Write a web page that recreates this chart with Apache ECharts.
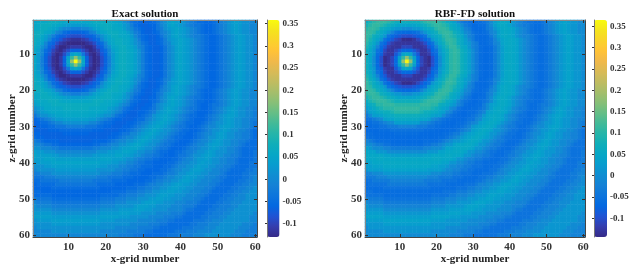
<!DOCTYPE html>
<html><head><meta charset="utf-8">
<style>html,body{margin:0;padding:0;background:#fff}#c{width:639px;height:267px;filter:blur(0.45px)}</style>
<script src="https://cdn.jsdelivr.net/npm/echarts@6/dist/echarts.min.js"></script>
</head><body><div id="c"></div>
<script>
// Each letter is one grid cell; levelValues gives the colour-bar value of each letter.
const levelValues = {'@':-0.14,a:-0.13,b:-0.12,c:-0.11,d:-0.10,e:-0.09,f:-0.08,g:-0.07,h:-0.065,i:-0.065,j:-0.06,k:-0.05,l:-0.035,m:-0.02,n:-0.005,o:0.015,p:0.03,q:0.04,r:0.05,s:0.055,t:0.06,u:0.07,v:0.085,w:0.10,x:0.11,B:0.11,H:0.18,X:0.36};
const gridLabels = Array.from({length: 60}, (_, i) => String(i + 1));
const exactRows = [
'rsttuuutss ssssstuuut tsrqonlkji ijklnoqrqp onmlkkjjkl mnopqpoonn',
'stuuutsrqp ppppqrstuu utsrpomkji ijjlnoqrqp onmllkjjkl mnopqpoonn',
'ttuutrqonn mmmnnoqrtu uttsqonlkj iijlmopqrq ponmlkjjkl mnopqpoonn',
'uuusrpnmkj iiijkmnprs uuutsqomlj iijkmnoqrq ponmlkjjkl mnopqpoonn',
'uusqomkigf eeefgikmoq suutsrpnlk jiijlnoqrq ponmmlkjjk lmnopqpoon',
'utrpnkhfdc bbbcdfhknp rtuutsqomk jiijkmopqr qponmlkjjk lmnopqpoon',
'usqnkhecba aaaabcehkn qsuutsqonl kiijkmnpqr qponmlkjjk lmnopqpoon',
'tromifcaab cccbaacfim ortuusrpnm kjiijlnoqr qponmlkjjk lmnopqpoon',
'sqnkgdbace hihecabdgk nqsuutsqom kjiijlnoqr qponmlkjjk lmnopqpoon',
'spnjfcabel qtqlebacfj npsuutsqom kjiijlnoqr qponmlkjjk lmnopqpoon',
'spmiebachq BHBqhcabei mpsuutsqom kjiijlnoqr qponmlkjjk lmnopqpoon',
'spmiebacit HXHticabei mpsuutsqom kjiijlnoqr qponmlkjjk lmnopqpoon',
'spmiebachq BHBqhcabei mpsuutsqom kjiijlnoqr qponmlkjjk lmnopqpoon',
'spnjfcabel qtqlebacfj npsuutsqom kjiijlnoqr qponmlkjjk lmnopqpoon',
'sqnkgdbace hihecabdgk nqsuutsqom kjiijlnoqr qponmlkjjk lmnopqpoon',
'tromifcaab cccbaacfim ortuusrpnm kjiijlnoqr qponmlkjjk lmnopqpoon',
'usqnkhecba aaaabcehkn qsuutsqonl kiijkmnpqr qponmlkjjk lmnopqpoon',
'utrpnkhfdc bbbcdfhknp rtuutsqomk jiijkmopqr qponmlkjjk lmnopqpoon',
'uusqomkigf eeefgikmoq suutsrpnlk jiijlnoqrq ponmmlkjjk lmnopqpoon',
'uuusrpnmkj iiijkmnprs uuutsqomlj iijkmnoqrq ponmlkjjkl mnopqpoonn',
'ttuutrqonn mmmnnoqrtu uttsqonlkj iijlmopqrq ponmlkjjkl mnopqpoonn',
'stuuutsrqp ppppqrstuu utsrpomkji ijjlnoqrqp onmllkjjkl mnopqpoonn',
'rsttuuutss ssssstuuut tsrqonlkji ijklnoqrqp onmlkkjjkl mnopqpoonn',
'qrsttuuuuu uuuuuuuutt srqonmkjii jjlnopqrqp onmlkjjkll mnopqpoonn',
'opqsstttuu uuuuutttss qponlkjiij jklnoqrqpo nmllkjjklm nopqpoonnm',
'nopqrssstt tttttsssrq ponmkjiijj klmopqrqpo nmlkjjjklm nopqpoonnm',
'lnoopqrrss sssssrrqpo onlkjiiijk lmopqrqpon mlkkjjklmn opqqpoonnm',
'jklmnoppqq qqqqqpponm lkjjiiijkk mnopqrqpon mlkjjjklmn opqpoonnmm',
'ijkklmnnoo ooooonnmlk kjiiijjklm nopqrqponm lkkjjklmno opqpoonnml',
'iijjkklllm mmmmlllkkj jiiijjklmn opqrqponml lkjjklmnno pqqpoonnml',
'iiiijjjkkk kkkkkkjjji iiijjklmno pqrqpoonml kkjjklmnoo pqpoonnmlk',
'jjiiiiiijj jjjjjiiiii ijjkllnnop qrqpoonmlk kjjklmnnop qpoonnmmlk',
'kjjiiiiiii iiiiiiiiii jjklmnnopq rqpoonmlkk jjjklmnoop qpoonnmmlk',
'mlkjjjjiii iiiiiijjjj klmnnoopqr qpoonmllkj jjklmnnopq poonnmmlkk',
'nnmllkkjjj jjjjjjkkll mnnoopqrrq poonmllkjj jklmnnopqq poonnmlkkk',
'oonnnmmlll llllllmmnn noopqqrrqp oonmllkjjj klmmnoopqp oonnmlkkkk',
'qppooonnnn nnnnnnnooo ppqqrrqpoo nnmlkkjjkk lmmnoopqpo oonnmlkkkl',
'rqqqqppooo ooooooppqq qqrrqqpoon mmllkjjjkl lmnoopqqpo onnmmlkkkl',
'qqqrrrqqqq qqqqqqqqrr rqqqpoonmm llkkjjjkkl mnnoppqpoo nnmmlkkkkl',
'ppqqqrrrrr rrrrrrrrqq qppoonnmll kkjjjjkklm nnoopqppoo nnmmlkkkll',
'oooppqqqqq qqqqqqqqpp ooonnmmllk kkjjjkklmn noopqppoon nmmlkkkkll',
'nooooopppp pppppppooo oonnmmllkk jjjjkklmnn oopqqpoonn mmlkkkkllm',
'mmnnnooooo oooooooonn nmmmllkkkj jjkkklmmno opqppoonnn mlkkkkllmm',
'lllmmmnnnn nnnnnnnmmm llllkkkjjj jkkllmnnoo pqppoonnnm llkkkkllmn',
'kklllllmmm mmmmmmllll lkkkkjjjjj kklmmnnoop qqpoonnnmm lkkkkllmmn',
'jkkkkkllll lllllllkkk kkjjjjjkkk lmmnnoopqq ppoonnnmml kkkkllmmnn',
'jjjjjkkkkk kkkkkkkkjj jjjjjkkkll mmnnoopqqp poonnnmmlk kkkllmmnno',
'kkjjjjjjjj jjjjjjjjjj jkkkklllmm nnooppqqpp oonnnmmlkk kkllmmnnoo',
'kkkkkjjjjj jjjjjjjjkk kkkllmmmnn ooopqqppoo onnnmmlkkk kllmmnnooo',
'mllllkkkkk kkkkkkkkll llmmmnnnoo oppqqppooo nnnmmlkkkk llmmnnnooo',
'nmmmmlllll llllllllmm mmnnnoooop qqqppooonn nmmmlkkkkl lmmnnnoooo',
'onnnnmmmmm mmmmmmmmnn nnooooopqq qppoooonnn mmmlkkkkll mmmnnooooo',
'ooooonnnnn nnnnnnnnoo oooppppqqq ppoooonnnn mllkkkkllm mmnnoooooo',
'pppppooooo oooooooopp pppqqqpppo ooonnnnmmm lkkkkkllmm mnnoooooon',
'qqqqqppppp ppppppppqq qqqpppoooo onnnnmmmll kkkkkllmmm nnoooooonn',
'oppppqqqqq qqqqqqqqpp ppoooooonn nnnmmmllkk kkklllmmnn nooooooonn',
'oooooppppp ppppppppoo oooooonnnn nmmmllkkkk kkllmmmnnn oooooonnnm',
'nooooooooo oooooooooo oonnnnnnmm mmllkkkkkk lllmmmnnno ooooonnnmm',
'nnnnnooooo oooooooonn nnnnnmmmmm llkkkkkkll lmmmnnnnoo oooonnnmmm',
'nnnnnnnnnn nnnnnnnnnn nnnmmmmlll kkkkkklllm mmmnnnoooo ooonnnmmmm'
];
const rbfRows = [
'tvwxxxwvuu uuuuuvwxxx wvtrpnlkji ijklnprsrq onmlkkjjkl mnopqpoonn',
'vwxxwvutrq qqqqrtuvwx xwvtrpnlki ijjlnprsrq onmllkjjkl mnopqpoonn',
'wxxwutrpoo nnnooprtuw xxwusqomlj iijlmoqrsr qonmlkjjkl mnopqpoonn',
'xxwusqomkj iiijkmoqsu wxxwuspnmk jijkmnprsr qonmlkjjkl mnopqpoonn',
'xwusqokhfe dddefhkoqs uwxwvtroml jiijlnprsr qonmmlkjjk lmnopqpoon',
'xvtqokgecb @@@acegkoq tvxxwuspnl jiijkmoqrs rqonmlkjjk lmnopqpoon',
'wurokgdbaa aaaaabdgko ruwxwuspom liijkmnqrs rqonmlkjjk lmnopqpoon',
'vtpmiebaaa cccaaabeim ptvxxvtrom ljiijlnprs rqonmlkjjk lmnopqpoon',
'urokgcaace hihecaacgk oruwxwuspn ljiijlnprs rqonmlkjjk lmnopqpoon',
'uqojfbaael qsqleaabfj oquwxwuspn ljiijlnprs rqonmlkjjk lmnopqpoon',
'uqnid@achp BHBphca@di nquwxwuspn ljiijlnprs rqonmlkjjk lmnopqpoon',
'uqnid@acis HXHsica@di nquwxwuspn ljiijlnprs rqonmlkjjk lmnopqpoon',
'uqnid@achp BHBphca@di nquwxwuspn ljiijlnprs rqonmlkjjk lmnopqpoon',
'uqojfbaael qsqleaabfj oquwxwuspn ljiijlnprs rqonmlkjjk lmnopqpoon',
'urokgcaace hihecaacgk oruwxwuspn ljiijlnprs rqonmlkjjk lmnopqpoon',
'vtpmiebaaa cccaaabeim ptvxxvtrom ljiijlnprs rqonmlkjjk lmnopqpoon',
'wurokgdbaa aaaaabdgko ruwxwuspom liijkmnqrs rqonmlkjjk lmnopqpoon',
'xvtqokgecb @@@acegkoq tvxxwuspnl jiijkmoqrs rqonmlkjjk lmnopqpoon',
'xwusqokhfe dddefhkoqs uwxwvtroml jiijlnprsr qonmmlkjjk lmnopqpoon',
'xxwusqomkj iiijkmoqsu wxxwuspnmk jijkmnprsr qonmlkjjkl mnopqpoonn',
'wxxwutrpoo nnnooprtuw xxwusqomlj iijlmoqrsr qonmlkjjkl mnopqpoonn',
'vwxxwvutrq qqqqrtuvwx xwvtrpnlki ijjlnprsrq onmllkjjkl mnopqpoonn',
'tvwxxxwvuu uuuuuvwxxx wvtrpnlkji ijklnprsrq onmlkkjjkl mnopqpoonn',
'rtuwwxxxww wwwwwxxxww utrpomljii jjlnpqrsrq onmlkjjkll mnopqpoonn',
'pqsuvwwwxx xxxxxwwwvu sqpnmkjiij jklnprsrqp nmllkjjklm nopqpoonnm',
'npqstuuvww wwwwwvuuts qpnmkjiijj klmpqrsrqo nmlkjjjklm nopqpoonnm',
'lnppqsttuu uuuuuttsqp pnlkjiiijk lmoqrsrqon mlkkjjklmn opqqpoonnm',
'kklmnpqqss sssssqqpnm lkjjiiijkk mnpqrsrqon mlkjjjklmn opqpoonnmm',
'ijkklmnnpp pppppnnmlk kjiiijjklm npqrsrqonm lkkjjklmno opqpoonnml',
'iijjkklllm mmmmlllkkj jiiijjklmo pqrsrqonml lkjjklmnno pqqpoonnml',
'iiiijjjkkk kkkkkkjjji iiijjklmnp qrsrqoonml kkjjklmnoo pqpoonnmlk',
'jjiiiiiijj jjjjjiiiii ijjkllnopq rsrqoonmlk kjjklmnnop qpoonnmmlk',
'kjjiiiiiii iiiiiiiiii jjklmnopqr srqponmlkk jjjklmnoop qpoonnmmlk',
'mlkjjjjiii iiiiiijjjj klmnoopqrs rqoonmllkj jjklmnnopq poonnmmlkk',
'nnmllkkjjj jjjjjjkkll mnooqrrssr qoonmllkjj jklmnnopqq poonnmlkkk',
'ponnnmmlll llllllmmnn noqqrrssrq oonmllkjjj klmmnoopqp oonnmlkkkk',
'rqqooonnnn nnnnnnnooo qqrrssrqoo nnmlkkjjkk lmmnoopqpo oonnmlkkkl',
'srrrrqqppp ppppppqqrr rrssrrqoon mmllkjjjkl lmnoopqqpo onnmmlkkkl',
'rrrssrrrrr rrrrrrrrss srrrqoonmm llkkjjjkkl mnnoppqpoo nnmmlkkkkl',
'qqrrrsssss ssssssssrr rqqoonnmll kkjjjjkklm nnoopqppoo nnmmlkkkll',
'ppqqqrrrrr rrrrrrrrqq pponnmmllk kkjjjkklmn noopqppoon nmmlkkkkll',
'oppppqqqqq qqqqqqqppp ponnmmllkk jjjjkklmnn oopqqpoonn mmlkkkkllm',
'mmnnnooooo oooooooonn nmmmllkkkj jjkkklmmno opqppoonnn mlkkkkllmm',
'lllmmmnnnn nnnnnnnmmm llllkkkjjj jkkllmnnoo pqppoonnnm llkkkkllmn',
'kklllllmmm mmmmmmllll lkkkkjjjjj kklmmnnoop qqpoonnnmm lkkkkllmmn',
'jkkkkkllll lllllllkkk kkjjjjjkkk lmmnnoopqq ppoonnnmml kkkkllmmnn',
'jjjjjkkkkk kkkkkkkkjj jjjjjkkkll mmnnoopqqp poonnnmmlk kkkllmmnno',
'kkjjjjjjjj jjjjjjjjjj jkkkklllmm nnooppqqpp oonnnmmlkk kkllmmnnoo',
'kkkkkjjjjj jjjjjjjjkk kkkllmmmnn ooopqqppoo onnnmmlkkk kllmmnnooo',
'mllllkkkkk kkkkkkkkll llmmmnnnoo oppqqppooo nnnmmlkkkk llmmnnnooo',
'nmmmmlllll llllllllmm mmnnnoooop qqqppooonn nmmmlkkkkl lmmnnnoooo',
'onnnnmmmmm mmmmmmmmnn nnooooopqq qppoooonnn mmmlkkkkll mmmnnooooo',
'ooooonnnnn nnnnnnnnoo oooppppqqq ppoooonnnn mllkkkkllm mmnnoooooo',
'pppppooooo oooooooopp pppqqqpppo ooonnnnmmm lkkkkkllmm mnnoooooon',
'qqqqqppppp ppppppppqq qqqpppoooo onnnnmmmll kkkkkllmmm nnoooooonn',
'oppppqqqqq qqqqqqqqpp ppoooooonn nnnmmmllkk kkklllmmnn nooooooonn',
'oooooppppp ppppppppoo oooooonnnn nmmmllkkkk kkllmmmnnn oooooonnnm',
'nooooooooo oooooooooo oonnnnnnmm mmllkkkkkk lllmmmnnno ooooonnnmm',
'nnnnnooooo oooooooonn nnnnnmmmmm llkkkkkkll lmmmnnnnoo oooonnnmmm',
'nnnnnnnnnn nnnnnnnnnn nnnmmmmlll kkkkkklllm mmmnnnoooo ooonnnmmmm'
];
const colorbarTicks = [-0.1, -0.05, 0, 0.05, 0.1, 0.15, 0.2, 0.25, 0.3, 0.35];
const titles = ['Exact solution', 'RBF-FD solution'];
const xName = 'x-grid number', yName = 'z-grid number';
const ranges = [[-0.13, 0.358], [-0.144, 0.365]];
const parula = ['#352a87','#353dad','#2053d4','#0268e1','#0d75dc','#1481d6','#108ed2','#079ccf','#06a7c6','#0faeb9','#25b5a9','#42ba98','#65be86','#87bf77','#a5be6b','#c0bc60','#d9ba56','#f1b94a','#ffc337','#fad32a','#f5e41d','#f9fb0e'];
const decode = rows => {
  const out = [];
  rows.forEach((r, y) => r.replace(/ /g, '').split('').forEach((c, x) => {
    out.push([x, y, levelValues[c]]);
  }));
  return out;
};
const datasets = [decode(exactRows), decode(rbfRows)];
const F = 'Liberation Serif';
const every10 = i => (i + 1) % 10 === 0;
const layout = [{l: 33, w: 224, cl: 267, cw: 12.5}, {l: 365, w: 220, cl: 594, cw: 13}];
const grid = [], xAxis = [], yAxis = [], series = [], visualMap = [], title = [];
const ticks = {show: true, inside: true, length: 3, alignWithLabel: true, interval: every10, lineStyle: {color: '#333', width: 1}};
layout.forEach((p, k) => {
  const g = grid.length;
  grid.push({left: p.l, width: p.w, top: 20, height: 217, outerBoundsMode: 'none'});
  xAxis.push({gridIndex: g, type: 'category', data: gridLabels, position: 'bottom', z: 6,
    name: xName, nameLocation: 'middle', nameGap: 17, nameMoveOverlap: false, nameTextStyle: {fontFamily: F, fontWeight: 'bold', fontSize: 11, color: '#222'},
    axisLine: {lineStyle: {color: '#444', width: 1}}, axisTick: ticks, splitLine: {show: false},
    axisLabel: {interval: every10, margin: 5, fontFamily: F, fontWeight: 'bold', fontSize: 11, color: '#333'}});
  yAxis.push({gridIndex: g, type: 'category', data: gridLabels, inverse: true, position: 'left', z: 6,
    name: yName, nameLocation: 'middle', nameGap: 15, nameMoveOverlap: false, nameTextStyle: {fontFamily: F, fontWeight: 'bold', fontSize: 11, color: '#222'},
    axisLine: {lineStyle: {color: '#888', width: 1}}, axisTick: ticks, splitLine: {show: false},
    axisLabel: {interval: every10, margin: 3, fontFamily: F, fontWeight: 'bold', fontSize: 11, color: '#333'}});
  xAxis.push({gridIndex: g, type: 'category', data: gridLabels, position: 'top', z: 6,
    axisLine: {lineStyle: {color: '#888', width: 1}}, axisTick: ticks, axisLabel: {show: false}, splitLine: {show: false}});
  yAxis.push({gridIndex: g, type: 'category', data: gridLabels, inverse: true, position: 'right', z: 6,
    axisLine: {lineStyle: {color: '#444', width: 1}}, axisTick: ticks, axisLabel: {show: false}, splitLine: {show: false}});
  const sIdx = series.length;
  series.push({type: 'heatmap', xAxisIndex: xAxis.length - 2, yAxisIndex: yAxis.length - 2, data: datasets[k], progressive: 0, animation: false, emphasis: {disabled: true}});
  visualMap.push({type: 'continuous', seriesIndex: sIdx, dimension: 2, min: ranges[k][0], max: ranges[k][1], left: p.cl, top: 20,
    itemWidth: p.cw, itemHeight: 217, text: null, showLabel: false, calculable: false, hoverLink: false, padding: 0, z: 1, inRange: {color: parula}, textStyle: {fontSize: 1, color: 'transparent'}, formatter: () => ''});
  grid.push({left: p.cl, width: p.cw, top: 20, height: 217, outerBoundsMode: 'none'});
  xAxis.push({gridIndex: g + 1, type: 'value', show: false, min: 0, max: 1});
  yAxis.push({gridIndex: g + 1, type: 'value', position: 'right', min: ranges[k][0], max: ranges[k][1], z: 6,
    axisLine: {show: true, lineStyle: {color: '#777', width: 1}}, splitLine: {show: false},
    axisTick: {show: true, inside: true, length: 2, customValues: colorbarTicks, lineStyle: {color: '#333'}},
    axisLabel: {customValues: colorbarTicks, margin: 3, fontFamily: F, fontWeight: 'bold', fontSize: 9, color: '#333', formatter: v => String(+(+v).toFixed(2))}});
  title.push({text: titles[k], left: p.l + p.w / 2 - 5, top: 4, textAlign: 'center', textStyle: {fontFamily: F, fontWeight: 'bold', fontSize: 11, color: '#111'}});
});
const chart = echarts.init(document.getElementById('c'), null, {renderer: 'canvas'});
chart.setOption({animation: false, backgroundColor: '#fff', title, grid, xAxis, yAxis, series, visualMap, tooltip: {show: false}});
</script></body></html>
